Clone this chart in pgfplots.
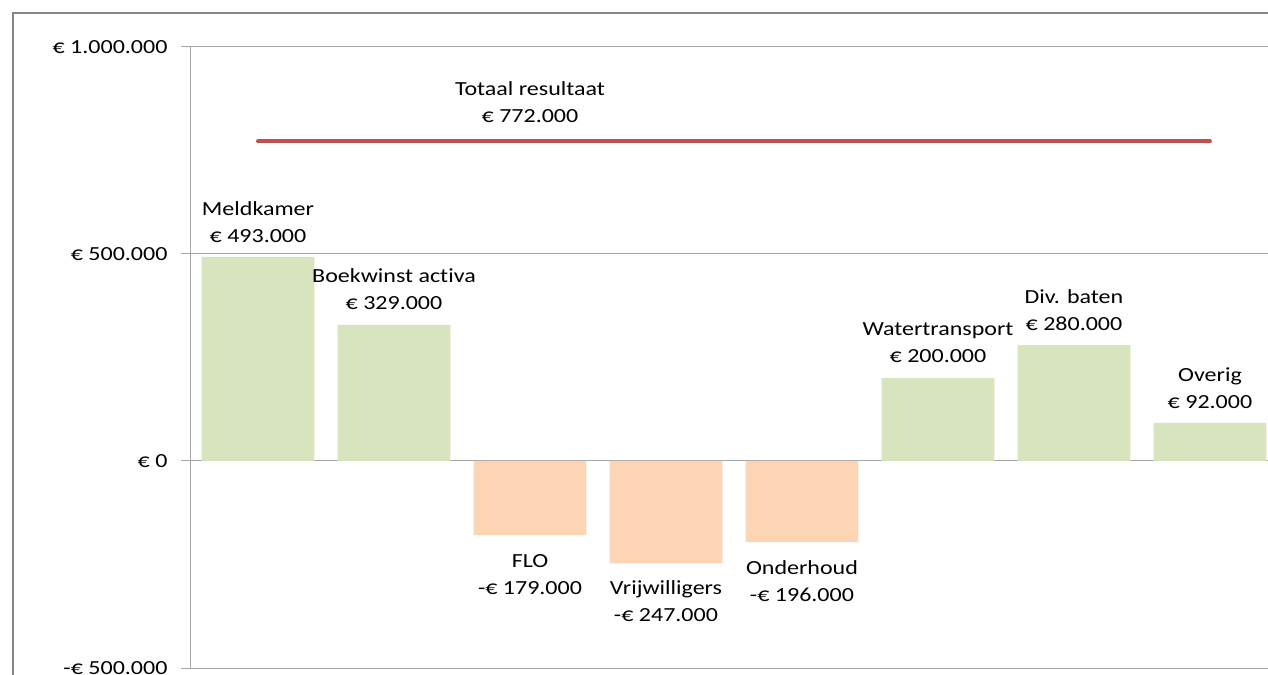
\documentclass[border=0pt]{standalone}
\usepackage{fontspec}
\setmainfont[FakeStretch=1.2, Ligatures=NoCommon]{Carlito}
\usepackage{pgfplots}
\pgfplotsset{compat=1.18}
\definecolor{posgreen}{HTML}{D7E4BD}
\definecolor{negorange}{HTML}{FCD5B5}
\definecolor{totred}{HTML}{C0504D}
\definecolor{gridgray}{HTML}{A6A6A6}
\definecolor{framegray}{HTML}{868686}
\newcommand\lbl{\fontsize{20bp}{27bp}\selectfont}
\begin{document}
\begin{tikzpicture}
\useasboundingbox (0,0) rectangle (1268bp,675bp);
\clip (0,0) rectangle (1268bp,675bp);
\draw[framegray, line width=2bp] (13bp,-20bp) rectangle (1300bp,662bp);
\begin{axis}[
  at={(190bp,7bp)}, anchor=south west,
  scale only axis, width=1088bp, height=621bp,
  xmin=-0.5, xmax=7.5, ymin=-500000, ymax=1000000,
  axis x line=none, axis y line*=left,
  ytick={-500000,0,500000,1000000},
  yticklabels={-€ 500.000, € 0, € 500.000, € 1.000.000},
  scaled y ticks=false,
  tick align=outside, major tick length=9bp,
  ymajorgrids, grid style={gridgray, line width=1bp},
  y axis line style={gridgray, line width=1bp},
  ytick style={gridgray, line width=1bp},
  yticklabel style={font=\lbl, text=black, xshift=-10bp},
  clip=false,
]
% positive results
\addplot[ybar, bar width=0.83, bar shift=0pt, fill=posgreen, draw=none]
  coordinates {(0,493000) (1,329000) (5,200000) (6,280000) (7,92000)};
% negative results
\addplot[ybar, bar width=0.83, bar shift=0pt, fill=negorange, draw=none]
  coordinates {(2,-179000) (3,-247000) (4,-196000)};
% total result line
\addplot[sharp plot, no marks, totred, line width=4bp, line cap=round]
  coordinates {(0,772000) (7,772000)};
\node[font=\lbl, align=center] at (axis cs:2,868000) {Totaal resultaat\\€ 772.000};
\node[font=\lbl, align=center] at (axis cs:0,576000) {Meldkamer\\€ 493.000};
\node[font=\lbl, align=center] at (axis cs:1,414000) {Boekwinst activa\\€ 329.000};
\node[font=\lbl, align=center] at (axis cs:2,-274000) {FLO\\-€ 179.000};
\node[font=\lbl, align=center] at (axis cs:3,-339000) {Vrijwilligers\\-€ 247.000};
\node[font=\lbl, align=center] at (axis cs:4,-289000) {Onderhoud\\-€ 196.000};
\node[font=\lbl, align=center] at (axis cs:5,285000) {Watertransport\\€ 200.000};
\node[font=\lbl, align=center] at (axis cs:6,365000) {Div. baten\\€ 280.000};
\node[font=\lbl, align=center] at (axis cs:7,176000) {Overig\\€ 92.000};
\end{axis}
\end{tikzpicture}
\end{document}
